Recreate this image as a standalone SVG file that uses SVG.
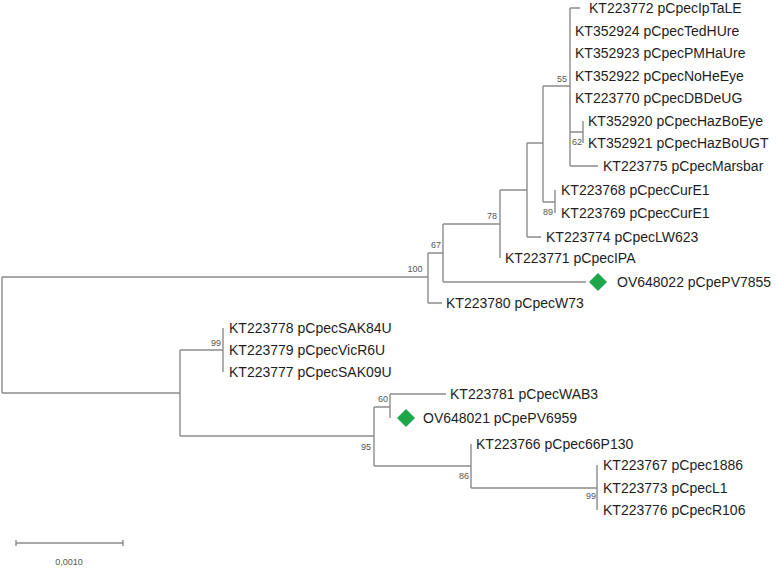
<svg xmlns="http://www.w3.org/2000/svg" width="777" height="568" viewBox="0 0 777 568">
<style>
.br{fill:none;stroke:#8c8c8c;stroke-width:1.4}
.lf{font-family:"Liberation Sans",Arial,sans-serif;font-size:14px;fill:#1e1e1e}
.bs{font-family:"Liberation Sans",Arial,sans-serif;font-size:9px;fill:#555;text-anchor:middle}
.dm{fill:#1ea64b}
</style>
<rect width="777" height="568" fill="#fff"/>
<g id="connectors" class="br">
<path d="M2,277V393M2,277H428M2,393H180"/>
<path d="M428,253V303M428,253H443M428,303H442"/>
<path d="M443,224V282M443,224H500M443,282H586"/>
<path d="M500,190V258M500,190H527"/>
<path d="M527,143V237M527,143H543M527,237H541"/>
<path d="M543,86V202M543,86H570M543,202H555"/>
<path d="M570,8V166M570,8H580M570,132H583M570,166H598"/>
<path d="M583,121V143"/>
<path d="M555,190V213"/>
<path d="M180,350V436M180,350H223M180,436H374"/>
<path d="M223,328V372"/>
<path d="M374,407V466M374,407H390M374,466H471"/>
<path d="M390,394V418M390,394H446"/>
<path d="M471,444V488M471,488H597"/>
<path d="M597,465V510"/>
</g>
<g id="leaves">
<g id="n-KT223772"><text class="lf" x="589" y="13">KT223772 pCpecIpTaLE</text></g>
<g id="n-KT352924"><text class="lf" x="575" y="36">KT352924 pCpecTedHUre</text></g>
<g id="n-KT352923"><text class="lf" x="575" y="58">KT352923 pCpecPMHaUre</text></g>
<g id="n-KT352922"><text class="lf" x="575" y="81">KT352922 pCpecNoHeEye</text></g>
<g id="n-KT223770"><text class="lf" x="575" y="103">KT223770 pCpecDBDeUG</text></g>
<g id="n-KT352920"><text class="lf" x="588" y="126">KT352920 pCpecHazBoEye</text></g>
<g id="n-KT352921"><text class="lf" x="588" y="148">KT352921 pCpecHazBoUGT</text></g>
<g id="n-KT223775"><text class="lf" x="603" y="171">KT223775 pCpecMarsbar</text></g>
<g id="n-KT223768"><text class="lf" x="561" y="195">KT223768 pCpecCurE1</text></g>
<g id="n-KT223769"><text class="lf" x="561" y="218">KT223769 pCpecCurE1</text></g>
<g id="n-KT223774"><text class="lf" x="546" y="242">KT223774 pCpecLW623</text></g>
<g id="n-KT223771"><text class="lf" x="505" y="263">KT223771 pCpecIPA</text></g>
<g id="n-OV648022"><path class="dm" d="M598,273L607,282L598,291L589,282Z"/><text class="lf" x="617" y="287">OV648022 pCpePV7855</text></g>
<g id="n-KT223780"><text class="lf" x="446" y="308">KT223780 pCpecW73</text></g>
<g id="n-KT223778"><text class="lf" x="229" y="333">KT223778 pCpecSAK84U</text></g>
<g id="n-KT223779"><text class="lf" x="229" y="355">KT223779 pCpecVicR6U</text></g>
<g id="n-KT223777"><text class="lf" x="229" y="377">KT223777 pCpecSAK09U</text></g>
<g id="n-KT223781"><text class="lf" x="450" y="399">KT223781 pCpecWAB3</text></g>
<g id="n-OV648021"><path class="dm" d="M406,409L415,418L406,427L397,418Z"/><text class="lf" x="423" y="423">OV648021 pCpePV6959</text></g>
<g id="n-KT223766"><text class="lf" x="476" y="449">KT223766 pCpec66P130</text></g>
<g id="n-KT223767"><text class="lf" x="603" y="470">KT223767 pCpec1886</text></g>
<g id="n-KT223773"><text class="lf" x="603" y="493">KT223773 pCpecL1</text></g>
<g id="n-KT223776"><text class="lf" x="603" y="515">KT223776 pCpecR106</text></g>
</g>
<g id="bootstrap">
<text class="bs" x="562" y="82">55</text>
<text class="bs" x="577" y="145">62</text>
<text class="bs" x="548" y="215">89</text>
<text class="bs" x="492" y="219">78</text>
<text class="bs" x="436" y="248">67</text>
<text class="bs" x="415" y="272">100</text>
<text class="bs" x="216" y="346">99</text>
<text class="bs" x="383" y="402">60</text>
<text class="bs" x="366" y="450">95</text>
<text class="bs" x="464" y="479">86</text>
<text class="bs" x="591" y="499">99</text>
</g>
<g id="scale">
<path class="br" d="M16,543H123M16,540V546M123,540V546"/>
<text class="bs" x="69" y="565">0,0010</text>
</g>
</svg>
